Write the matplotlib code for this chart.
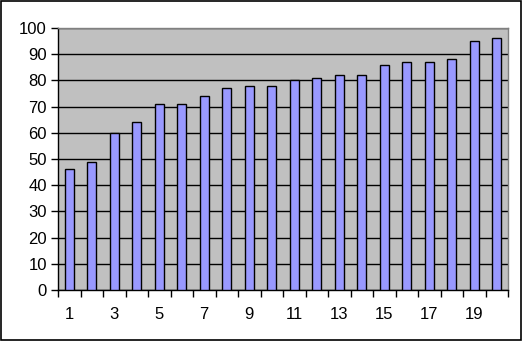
import matplotlib
matplotlib.use("Agg")
import matplotlib.pyplot as plt
from matplotlib.patches import Rectangle
import numpy as np

categories = list(range(1, 21))
values = [46, 49, 60, 64, 71, 71, 74, 77, 78, 78, 80, 81, 82, 82, 86, 87, 87, 88, 95, 96]
y_ticks = list(range(0, 101, 10))
x_labels = [str(c) for c in categories]

plt.rcParams['font.family'] = ['Liberation Sans', 'DejaVu Sans']

W, H = 523, 341
fig = plt.figure(figsize=(W / 100, H / 100), dpi=100)
left, right, top, bottom = 58, 508, 28, 290
ax = fig.add_axes([left / W, 1 - bottom / H, (right - left) / W, (bottom - top) / H])
ax.set_facecolor('#C0C0C0')

x = np.arange(len(categories))
ax.bar(x, values, width=0.4, color='#9999FF', edgecolor='black', linewidth=1.0, zorder=3)

ax.set_xlim(-0.5, len(categories) - 0.5)
ax.set_ylim(0, 100)
ax.set_yticks(y_ticks)
ax.set_yticklabels([str(v) for v in y_ticks], fontsize=12)
ax.yaxis.grid(True, color='black', linewidth=1.0, zorder=1)
ax.set_axisbelow(True)

# category boundary ticks
ax.set_xticks(np.arange(-0.5, len(categories)), minor=False)
ax.set_xticklabels([])
ax.set_xticks(x[::2], minor=True)
ax.set_xticklabels(x_labels[::2], minor=True, fontsize=12)
ax.tick_params(axis='x', which='major', length=5, width=1, direction='out', color='black')
ax.tick_params(axis='x', which='minor', length=0, pad=12)
ax.tick_params(axis='y', length=5, width=1, direction='out', color='black', pad=3)

for s in ['top', 'right']:
    ax.spines[s].set_color('#808080')
    ax.spines[s].set_linewidth(1.0)
for s in ['left', 'bottom']:
    ax.spines[s].set_color('black')
    ax.spines[s].set_linewidth(1.0)

fig.patches.append(Rectangle((1 / W, 1 - 340 / H), 520 / W, 339 / H, transform=fig.transFigure,
                             fill=False, edgecolor='black', linewidth=1.2))

fig.savefig('out.png', dpi=100)
